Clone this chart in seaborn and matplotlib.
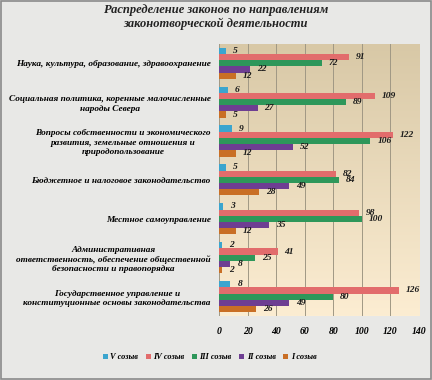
import matplotlib
matplotlib.use("Agg")
import matplotlib.pyplot as plt
import seaborn as sns
import numpy as np
import pandas as pd
from matplotlib.patches import Rectangle

categories = [
    "Наука, культура, образование, здравоохранение",
    "Социальная политика, коренные малочисленные\nнароды Севера",
    "Вопросы собственности и экономического\nразвития, земельные отношения и\nприродопользование",
    "Бюджетное и налоговое законодательство",
    "Местное самоуправление",
    "Административная\nответственность, обеспечение общественной\nбезопасности и правопорядка",
    "Государственное управление и\nконституционные основы законодательства",
]
series = ["V созыв", "IV созыв", "III созыв", "II созыв", "I созыв"]
v_conv = [5, 6, 9, 5, 3, 2, 8]
iv_conv = [91, 109, 122, 82, 98, 41, 126]
iii_conv = [72, 89, 106, 84, 100, 25, 80]
ii_conv = [22, 27, 52, 49, 35, 8, 49]
i_conv = [12, 5, 12, 28, 12, 2, 26]
colors = ["#22b0e6", "#f65858", "#1ca957", "#7030a0", "#e46c0a"]

rows = []
for s, vals in zip(series, [v_conv, iv_conv, iii_conv, ii_conv, i_conv]):
    for c, v in zip(categories, vals):
        rows.append({"cat": c, "conv": s, "val": v})
df = pd.DataFrame(rows)

font = dict(family="Liberation Serif", weight="bold", style="italic")

fig = plt.figure(figsize=(4.32, 3.8), dpi=100)
fig.patch.set_facecolor("#e8e8e6")
fig.patches.append(Rectangle((0.002, 0.003), 0.995, 0.994, transform=fig.transFigure,
                             fill=False, edgecolor="#8a8a8a", linewidth=1.2))
ax = fig.add_axes([0.507, 0.168, 0.463, 0.717])

sns.barplot(data=df, y="cat", x="val", hue="conv", hue_order=series, order=categories,
            palette=colors, orient="h", width=0.8, ax=ax, legend=True, zorder=3)

# gradient background of plot area
grad = np.linspace(0, 1, 256).reshape(-1, 1)
cmap = matplotlib.colors.LinearSegmentedColormap.from_list("bg", ["#d8c8a6", "#fcedd2"])
ax.imshow(grad, extent=[0, 140, 6.5, -0.5], aspect="auto", cmap=cmap, zorder=0)
ax.set_xlim(0, 140)
ax.set_ylim(6.5, -0.5)

for cont in ax.containers:
    ax.bar_label(cont, padding=5, fontsize=6.8, color="#1a1a1a", **font)

ax.set_xticks(range(0, 141, 20))
ax.xaxis.grid(True, color="#a09884", linewidth=0.7)
for gl in ax.get_xgridlines():
    gl.set_zorder(1)
ax.tick_params(length=0)
ax.tick_params(axis="x", pad=8)
ax.tick_params(axis="y", pad=6)
for lab in ax.get_xticklabels():
    lab.set(fontsize=7, **font)
ax.set_yticks(range(len(categories)))
ax.set_yticklabels(categories, fontsize=6.7, linespacing=1.25, **font)
for lab in ax.get_yticklabels():
    lab.set_horizontalalignment("right")
    lab.set_multialignment("center")
ax.set_xlabel("")
ax.set_ylabel("")
for sp in ax.spines.values():
    sp.set_visible(False)

leg = ax.legend(loc="center", bbox_to_anchor=(0.485, 0.06), bbox_transform=fig.transFigure,
                ncol=5, frameon=False, prop=dict(size=6, **font), handlelength=0.6,
                handleheight=0.6, handletextpad=0.3, columnspacing=0.9)

fig.text(0.5, 0.955, "Распределение законов по направлениям\nзаконотворческой деятельности",
         ha="center", va="center", fontsize=9, linespacing=1.1, color="#222222", **font)

fig.savefig("out.png", dpi=100, facecolor=fig.get_facecolor())
